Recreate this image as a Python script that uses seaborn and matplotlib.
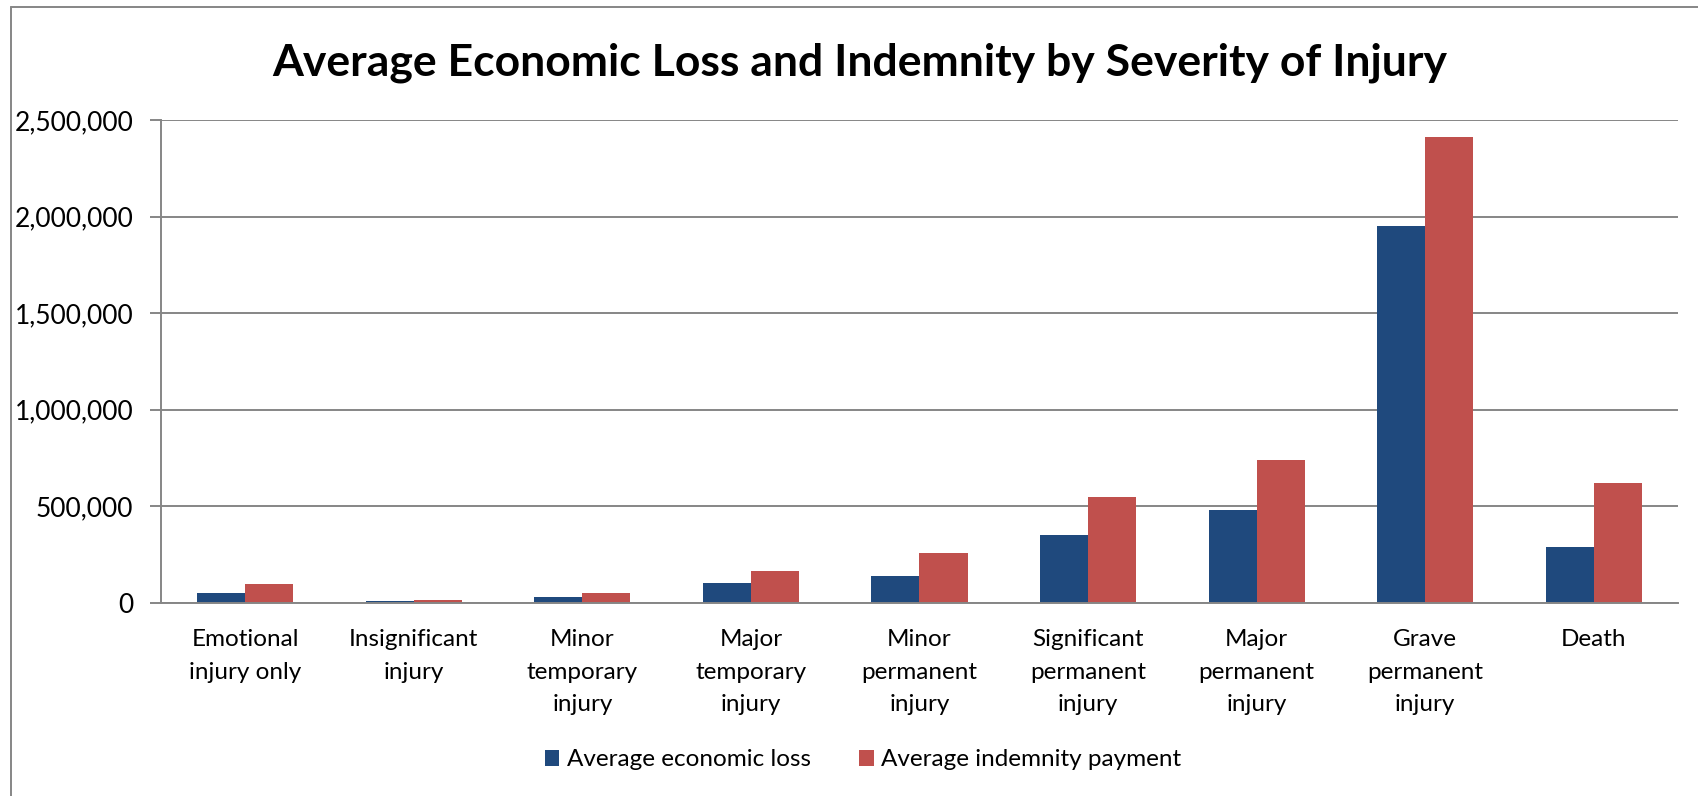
import numpy as np
import pandas as pd
import matplotlib.pyplot as plt
from matplotlib.lines import Line2D
import seaborn as sns

categories = ['Emotional\ninjury only', 'Insignificant\ninjury', 'Minor\ntemporary\ninjury',
              'Major\ntemporary\ninjury', 'Minor\npermanent\ninjury', 'Significant\npermanent\ninjury',
              'Major\npermanent\ninjury', 'Grave\npermanent\ninjury', 'Death']
economic_loss = [53000, 8600, 33000, 102000, 140000, 353000, 481000, 1952000, 288000]
indemnity = [96500, 17000, 50000, 164000, 259000, 547000, 738000, 2410000, 621000]
series_names = ['Average economic loss', 'Average indemnity payment']
y_ticks = [0, 500000, 1000000, 1500000, 2000000, 2500000]

df = pd.DataFrame({
    'Severity': categories * 2,
    'Value': economic_loss + indemnity,
    'Series': [series_names[0]] * len(categories) + [series_names[1]] * len(categories),
})

sns.set_style('white')
plt.rcParams['font.family'] = ['Lato', 'DejaVu Sans']
plt.rcParams['text.color'] = 'black'
plt.rcParams['xtick.labelcolor'] = 'black'
plt.rcParams['ytick.labelcolor'] = 'black'

grey = '#868686'
fig = plt.figure(figsize=(16.99, 7.96), dpi=100)
ax = fig.add_axes([161 / 1699, 1 - 603 / 796, (1678 - 161) / 1699, (603 - 120) / 796])

sns.barplot(data=df, x='Severity', y='Value', hue='Series', palette=['#1F497D', '#C0504D'],
            width=0.57, gap=0, saturation=1, linewidth=0, ax=ax)

ax.set_xlim(-0.5, len(categories) - 0.5)
ax.set_ylim(0, 2500000)
ax.set_yticks(y_ticks)
ax.set_yticklabels([f'{v:,}' for v in y_ticks])
ax.yaxis.grid(True, color=grey, lw=1.4)
ax.set_axisbelow(True)

ax.set_xticks(range(len(categories)))
ax.set_xticklabels(categories, linespacing=1.66)
ax.set_xticks(np.arange(-0.5, len(categories), 1), minor=True)
ax.tick_params(axis='x', which='major', length=0, pad=19, labelsize=17.5, labelcolor='black')
ax.tick_params(axis='x', which='minor', length=9, width=1.4, color=grey, direction='out')
ax.tick_params(axis='y', length=8, width=1.4, color=grey, direction='out', pad=12, labelsize=19,
               left=True, labelcolor='black')

for s in ['top', 'right']:
    ax.spines[s].set_visible(False)
for s in ['left', 'bottom']:
    ax.spines[s].set_color(grey)
    ax.spines[s].set_linewidth(1.4)

ax.set_xlabel('')
ax.set_ylabel('')

handles, labels = ax.get_legend_handles_labels()
ax.get_legend().remove()
fig.legend(handles, labels, loc='center', bbox_to_anchor=(0.508, 1 - 760 / 796), ncol=2,
           frameon=False, fontsize=17.5, handlelength=0.6, handleheight=0.6, handletextpad=0.3,
           columnspacing=2.0)

fig.suptitle('Average Economic Loss and Indemnity by Severity of Injury', x=0.506, y=1 - 63 / 796,
             va='center', fontsize=32, fontweight='bold', color='black')

# Excel-style chart frame
fig.add_artist(Line2D([11 / 1699, 11 / 1699], [0, 1 - 7 / 796], transform=fig.transFigure, color=grey, lw=1.4))
fig.add_artist(Line2D([11 / 1699, 1], [1 - 7 / 796, 1 - 7 / 796], transform=fig.transFigure, color=grey, lw=1.4))

fig.savefig('out.png', dpi=100)
